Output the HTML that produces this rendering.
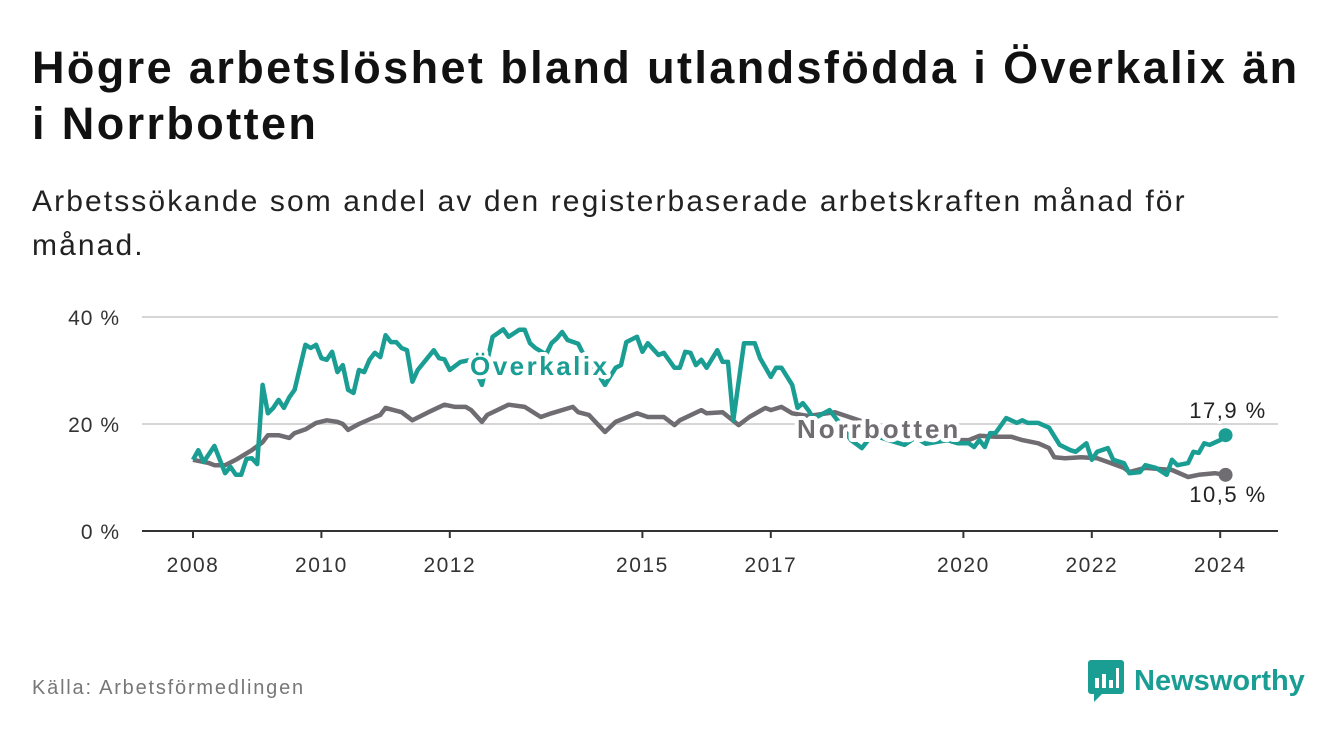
<!DOCTYPE html>
<html><head><meta charset="utf-8"><style>
body{margin:0;background:#fff;font-family:"Liberation Sans","DejaVu Sans",sans-serif;}
#wrap{position:relative;width:1340px;height:734px;overflow:hidden;}
h1{position:absolute;left:32px;top:40px;margin:0;font-size:45px;line-height:56px;font-weight:bold;color:#111;width:1310px;letter-spacing:2.4px;}
.sub{position:absolute;left:32px;top:180px;font-size:30px;line-height:44px;color:#222;width:1290px;letter-spacing:2.1px;}
.src{position:absolute;left:32px;top:677px;font-size:20px;color:#777;letter-spacing:1.8px;}
.logo{position:absolute;left:1088px;top:660px;display:flex;align-items:center;}
.logo span{font-size:29px;font-weight:bold;color:#1a9e94;margin-left:10px;}
</style></head><body><div id="wrap">
<h1>Högre arbetslöshet bland utlandsfödda i Överkalix än<br>i Norrbotten</h1>
<div class="sub">Arbetssökande som andel av den registerbaserade arbetskraften månad för<br>månad.</div>
<svg id="chart" width="1340" height="734" style="position:absolute;left:0;top:0"></svg>
<div class="src">Källa: Arbetsförmedlingen</div>
<div class="logo"><svg width="36" height="42"><rect x="0" y="0" width="36" height="34" rx="3" fill="#1a9e94"/><polygon points="6,34 6,42 14,34" fill="#1a9e94"/><rect x="7" y="18" width="4" height="10" fill="#fff"/><rect x="14" y="14" width="4" height="14" fill="#fff"/><rect x="21" y="20" width="4" height="8" fill="#fff"/><rect x="28" y="8" width="3" height="20" fill="#fff"/></svg><span>Newsworthy</span></div>
</div>
<script>
// months since Jan 2008
const okMonths=[0,1,2,4,6,7,8,9,10,11,12,13,14,15,16,17,18,19,21,22,23,24,25,26,27,28,29,30,31,32,33,34,35,36,37,38,39,40,41,42,45,46,47,48,50,52,54,56,58,59,61,62,63,64,66,67,68,69,70,72,73,74,77,79,80,81,83,84,85,87,88,90,91,92,93,94,95,96,98,99,100,101,103,105,106,108,109,110,112,113,114,115,116,119,121,123,125,127,130,133,135,137,141,143,145,146,147,148,149,150,152,154,155,156,158,160,162,164,165,167,168,169,171,172,174,175,177,178,180,182,183,184,186,187,188,189,190,192,193];
const okValues=[13.3,15.1,12.9,15.9,10.8,12,10.5,10.5,13.5,13.6,12.5,27.3,22,23,24.5,23,25,26.4,34.8,34.2,34.8,32.3,32,33.5,29.7,31,26.4,25.8,30.1,29.7,32,33.3,32.5,36.6,35.3,35.3,34.2,33.8,27.9,30.1,33.8,32.3,32.1,30.1,31.6,32,27.3,36.3,37.7,36.3,37.6,37.6,35.1,34.2,33,35.1,36,37.2,35.7,35,33,32,27.3,30.5,31,35.3,36.3,33.5,35.1,32.9,33.3,30.5,30.5,33.5,33.3,31,32,30.5,33.8,31.6,31.6,20.7,35.1,35.1,32.3,28.8,30.5,30.5,27.3,23,23.9,22.6,21,22.6,20,17,15.5,18,17,16.1,17.5,16.3,17,16.4,16.4,15.7,17,15.7,18.3,18.3,21.1,20.2,20.7,20.2,20.2,19.3,16.1,15.1,14.8,16.4,13.3,14.8,15.5,13.3,12.7,10.8,11,12.3,11.8,10.5,13.3,12.3,12.7,14.8,14.6,16.4,16.1,17,17.9];
const nbMonths=[0,3,4,6,8,11,13,14,16,18,19,21,23,25,27,28,29,31,34,35,36,39,41,44,47,49,51,52,54,55,59,62,65,67,71,72,74,77,79,83,85,88,90,91,95,96,99,102,104,107,108,110,112,115,120,125,130,136,141,145,147,150,153,155,158,160,161,163,166,169,171,174,175,178,183,186,188,191,193];
const nbValues=[13.3,12.7,12.3,12.3,13.3,15.1,16.6,17.9,17.9,17.4,18.3,19,20.2,20.7,20.4,20,18.9,20,21.3,21.7,23,22.2,20.7,22.2,23.6,23.2,23.2,22.6,20.4,21.7,23.6,23.2,21.3,22,23.2,22.2,21.7,18.5,20.4,22,21.3,21.3,19.8,20.7,22.6,22,22.2,19.8,21.3,23,22.6,23.2,22,21.5,22.2,20.5,19,18,17,17,17.8,17.6,17.6,17,16.4,15.5,13.8,13.6,13.8,13.6,12.9,11.8,11,11.8,11.4,10.1,10.5,10.8,10.5];
const yTicks=[0,20,40];
const yTickLabels=["0 %","20 %","40 %"];
const xTickYears=[2008,2010,2012,2015,2017,2020,2022,2024];
const endLabels=["17,9 %","10,5 %"];

const NS="http://www.w3.org/2000/svg";
const svg=document.getElementById('chart');
const x0=193,pxPerMonth=5.35,y0=531,pxPerPct=5.35;
const xm=m=>x0+m*pxPerMonth;
const xy=yr=>xm((yr-2008)*12);
const yv=v=>y0-v*pxPerPct;
function mk(t,a){const e=document.createElementNS(NS,t);for(const k in a)e.setAttribute(k,a[k]);svg.appendChild(e);return e;}

yTicks.forEach((t,i)=>{
  if(t>0){const g=mk('line',{x1:142,x2:1278,y1:yv(t),y2:yv(t),stroke:'#d6d6d6','stroke-width':2});
  
  }
  const l=mk('text',{x:120,y:yv(t)+8,'text-anchor':'end','font-size':21,'letter-spacing':1,fill:'#333'});
  l.textContent=yTickLabels[i];
  
  
});
const ax=mk('line',{x1:142,x2:1278,y1:y0,y2:y0,stroke:'#333','stroke-width':2});


xTickYears.forEach(yr=>{
  const tk=mk('line',{x1:xy(yr),x2:xy(yr),y1:y0,y2:y0+7,stroke:'#333','stroke-width':2});
  
  
  const l=mk('text',{x:xy(yr),y:572,'text-anchor':'middle','font-size':21,'letter-spacing':1.5,fill:'#333'});
  l.textContent=yr;
  
  
});
function line(ms,vs,color,name){
  const d=ms.map((m,i)=>(i?'L':'M')+xm(m).toFixed(1)+','+yv(vs[i]).toFixed(1)).join('');
  const p=mk('path',{d:d,fill:'none',stroke:color,'stroke-width':4.5,'stroke-linejoin':'round'});
  
  
  const n=ms.length-1;
  const c=mk('circle',{cx:xm(ms[n]),cy:yv(vs[n]),r:7,fill:color});
  
  
}
line(nbMonths,nbValues,'#6f6c72','norrbotten');
line(okMonths,okValues,'#1a9e94','overkalix');
function lab(txt,x,y,color,name,bold,anchor,ls){
  const t=mk('text',{x:x,y:y,'text-anchor':anchor||'start','font-size':bold?26:22,'font-weight':bold?'bold':'normal','letter-spacing':ls,fill:color,stroke:'#fff','stroke-width':bold?8:6,'paint-order':'stroke','stroke-linejoin':'round'});
  t.textContent=txt;
  
  
}
lab('Överkalix',470,375,'#1a9e94','overkalix-series-label',true,'start',2.5);
lab('Norrbotten',797,438,'#6f6c72','norrbotten-series-label',true,'start',3);
lab(endLabels[0],1228,418,'#222','overkalix-end-value',false,'middle',1.5);
lab(endLabels[1],1228,502,'#222','norrbotten-end-value',false,'middle',1.5);
</script>
</body></html>
